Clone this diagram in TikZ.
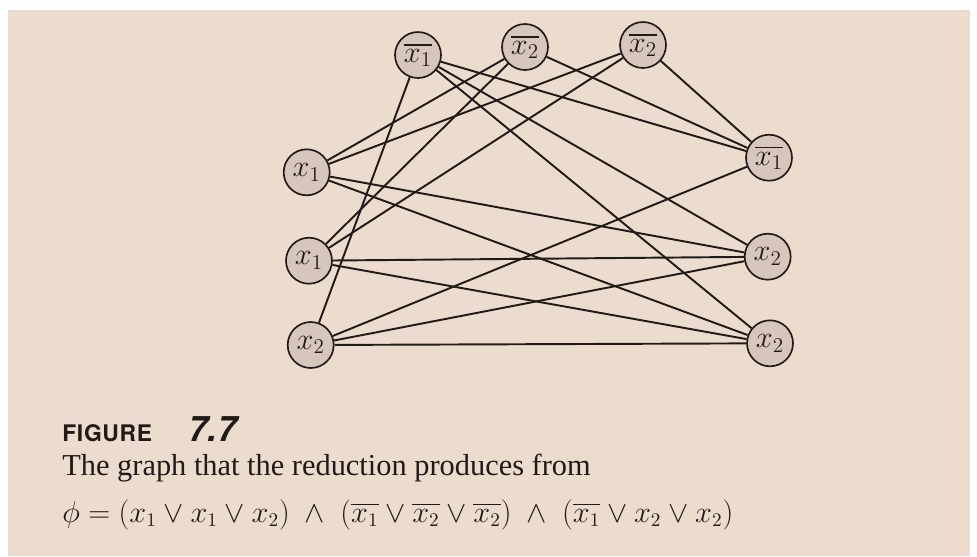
\documentclass[tikz,border=0pt]{standalone}
\usepackage{amsmath}
\usepackage{fontspec}
\setmainfont{Liberation Serif}
\newfontfamily\capfont{TeX Gyre Heros}
\usepackage{tikz}
\usetikzlibrary{positioning}
\definecolor{paper}{RGB}{236,220,206}
\definecolor{nodefill}{RGB}{214,198,188}
\definecolor{ink}{RGB}{34,26,24}

\begin{document}
\begin{tikzpicture}[
  x=0.02cm, y=-0.02cm,
  lit/.style={circle, draw=ink, fill=nodefill, line width=0.95pt,
              minimum size=0.92cm, inner sep=0pt,
              font=\fontsize{18}{20}\selectfont, text=ink},
  edge/.style={draw=ink, line width=1.1pt},
  capt/.style={anchor=base west, inner sep=0pt, text=ink},
]
\useasboundingbox (0,0) rectangle (977,556);
\fill[white] (0,0) rectangle (977,556);
\fill[paper] (8,10) rectangle (970,556);

% ── clause 1 (left) ──────────────────────────────────────────
\node[lit] (l1) at (306.7,172.3) {$x_1$};
\node[lit] (l2) at (309,260.7)   {$x_1$};
\node[lit] (l3) at (310.7,345)   {$x_2$};

% ── clause 2 (top) ───────────────────────────────────────────
\node[lit] (t1) at (418,55) {$\overline{x_1}$};
\node[lit] (t2) at (525,47) {$\overline{x_2}$};
\node[lit] (t3) at (643,45) {$\overline{x_2}$};

% ── clause 3 (right) ─────────────────────────────────────────
\node[lit] (r1) at (769,157.7)   {$\overline{x_1}$};
\node[lit] (r2) at (767.7,256.7) {$x_2$};
\node[lit] (r3) at (770,343.3)   {$x_2$};

% ── edges ────────────────────────────────────────────────────
\foreach \a/\b in {l1/t2, l1/t3, l2/t2, l2/t3, l3/t1,
                   l1/r2, l1/r3, l2/r2, l2/r3, l3/r1, l3/r2, l3/r3,
                   t1/r1, t1/r2, t1/r3, t2/r1, t3/r1}
  \draw[edge] (\a) -- (\b);

% ── caption ──────────────────────────────────────────────────
\node[capt, font=\capfont\bfseries\fontsize{13}{16}\selectfont\addfontfeature{LetterSpace=3}]
  (figword) at (62,441) {FIGURE};
\node[capt, font=\capfont\bfseries\itshape\fontsize{20}{22}\selectfont]
  (fignum) at (188,441) {7.7};
\node[capt, font=\fontsize{17.3}{20}\selectfont]
  (capline) at (62,475) {The graph that the reduction produces from};
\node[capt, font=\fontsize{16}{20}\selectfont]
  (formula) at (62,522)
  {$\phi = (x_1 \vee x_1 \vee x_2) \;\wedge\; (\overline{x_1} \vee \overline{x_2} \vee \overline{x_2}) \;\wedge\; (\overline{x_1} \vee x_2 \vee x_2)$};

\end{tikzpicture}
\end{document}
